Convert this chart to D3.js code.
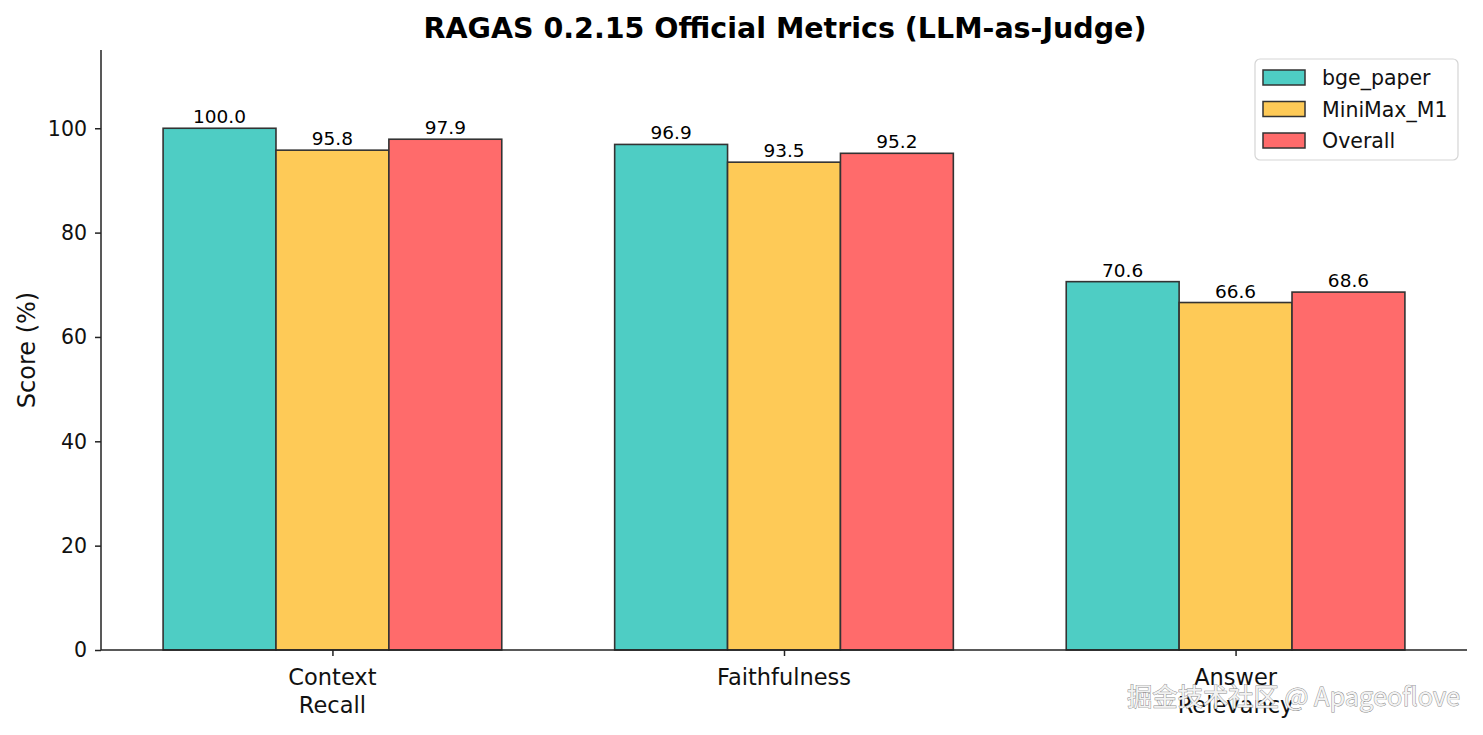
<!DOCTYPE html>
<html><head><meta charset="utf-8">
<script src="https://cdn.jsdelivr.net/npm/d3@7"></script>
<style>body{margin:0;background:#fff;} svg{display:block;font-family:"DejaVu Sans",sans-serif;}</style>
</head><body>
<svg id="chart" width="1483" height="735"></svg>
<script>
const categories = ["Context\nRecall", "Faithfulness", "Answer\nRelevancy"];
const seriesNames = ["bge_paper", "MiniMax_M1", "Overall"];
const bgePaper = [100.0, 96.9, 70.6];
const miniMaxM1 = [95.8, 93.5, 66.6];
const overall = [97.9, 95.2, 68.6];
const colors = ["#4ECDC4", "#FECA57", "#FF6B6B"];
const yTicks = [0, 20, 40, 60, 80, 100];
const titleText = "RAGAS 0.2.15 Official Metrics (LLM-as-Judge)";
const yLabel = "Score (%)";
const watermark = "掘金技术社区 @ Apageoflove";

const series = [bgePaper, miniMaxM1, overall];
const svg = d3.select("#chart");
const L = 101, R = 1467, T = 50, B = 650;
const barW = 0.25;
const x = d3.scaleLinear().domain([-0.5125, 2.5125]).range([L, R]);
const y = d3.scaleLinear().domain([0, 115]).range([B, T]);

// bars
series.forEach((vals, si) => {
  const g = svg.append("g");
  vals.forEach((v, ci) => {
    const cx = ci + (si - 1) * barW;
    g.append("rect")
      .attr("x", x(cx - barW / 2)).attr("y", y(v))
      .attr("width", x(cx + barW / 2) - x(cx - barW / 2))
      .attr("height", y(0) - y(v))
      .attr("fill", colors[si]).attr("stroke", "#333").attr("stroke-width", 1.6);
    g.append("text").attr("x", x(cx)).attr("y", y(v) - 5)
      .attr("text-anchor", "middle").attr("font-size", 18.5).attr("fill", "#000")
      .attr("textLength", null)
      .text(v.toFixed(1));
  });
});

// y axis
const yAxis = svg.append("g").attr("transform", `translate(${L},0)`)
  .call(d3.axisLeft(y).tickValues(yTicks).tickSize(6).tickPadding(8).tickFormat(d3.format("d")));
yAxis.select(".domain").attr("stroke", "#222").attr("stroke-width", 1.5).attr("d", `M0,${B}V${T}`);
yAxis.selectAll(".tick line").attr("stroke", "#222").attr("stroke-width", 1.5);
yAxis.selectAll(".tick text").attr("font-size", 20.5).attr("fill", "#111").attr("font-family", "DejaVu Sans").attr("dy", "0.34em");

// x axis
const xAxis = svg.append("g").attr("transform", `translate(0,${B})`)
  .call(d3.axisBottom(x).tickValues([0, 1, 2]).tickSize(6).tickPadding(8).tickFormat(""));
xAxis.select(".domain").attr("stroke", "#222").attr("stroke-width", 1.5).attr("d", `M${L},0H${R}`);
xAxis.selectAll(".tick line").attr("stroke", "#222").attr("stroke-width", 1.5);
categories.forEach((c, i) => {
  const t = svg.append("text").attr("x", x(i)).attr("y", B + 35)
    .attr("text-anchor", "middle").attr("font-size", 22.5).attr("fill", "#111");
  c.split("\n").forEach((line, k) => {
    t.append("tspan").attr("x", x(i)).attr("dy", k === 0 ? 0 : 28).text(line);
  });
});

// y label
svg.append("text").attr("transform", `translate(35,${(T + B) / 2}) rotate(-90)`)
  .attr("text-anchor", "middle").attr("font-size", 24).attr("fill", "#111").text(yLabel);

// title
svg.append("text").attr("x", (L + R) / 2 + 1).attr("y", 38).attr("text-anchor", "middle")
  .attr("font-size", 28.5).attr("font-weight", "bold").attr("fill", "#000").text(titleText);

// legend
const lg = svg.append("g").attr("transform", "translate(1255,59)");
lg.append("rect").attr("x", 0).attr("y", 0).attr("width", 203).attr("height", 101)
  .attr("rx", 5).attr("fill", "#fff").attr("fill-opacity", 0.85).attr("stroke", "#d5d5d5").attr("stroke-width", 1.2);
seriesNames.forEach((n, i) => {
  lg.append("rect").attr("x", 8).attr("y", 11 + i * 31.5).attr("width", 42).attr("height", 15)
    .attr("fill", colors[i]).attr("stroke", "#333").attr("stroke-width", 1.5);
  lg.append("text").attr("x", 67).attr("y", 26 + i * 31.5).attr("font-size", 20.5).attr("fill", "#111").text(n);
});

// watermark
svg.append("text").attr("x", 1460).attr("y", 706).attr("text-anchor", "end")
  .attr("font-family", "'Noto Sans CJK SC', 'Noto Sans', sans-serif").attr("font-size", 25.3)
  .attr("fill", "#f2f2f2").attr("stroke", "#8a8a8a").attr("stroke-width", 0.9).attr("paint-order", "stroke")
  .text(watermark);
</script>
</body></html>
